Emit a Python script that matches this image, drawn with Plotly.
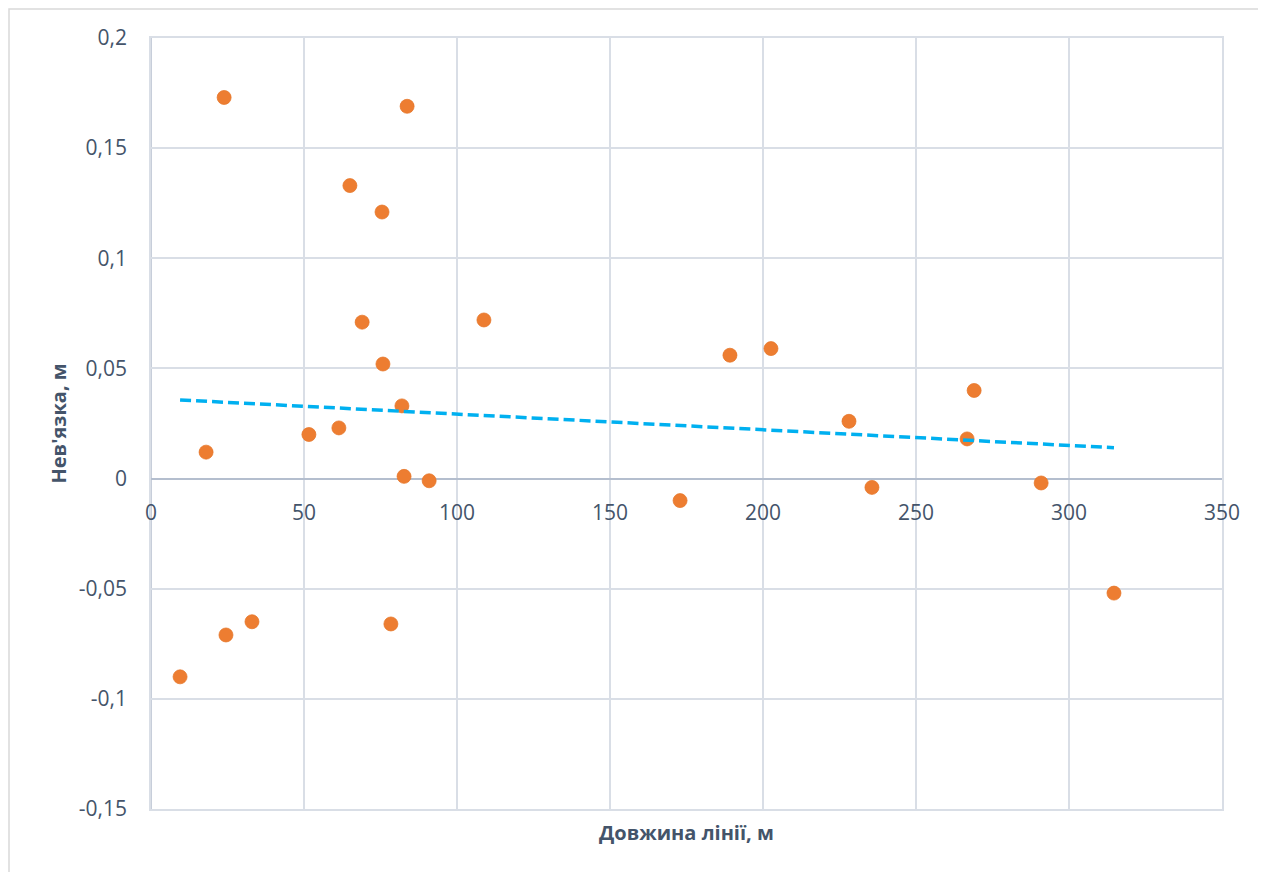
import numpy as np
import plotly.graph_objects as go

# Data
line_length = [23.9, 83.7, 65.0, 75.5, 69.0, 108.8, 75.8, 189.2, 202.6, 269.0,
               82.0, 228.1, 266.7, 61.4, 51.6, 18.0, 82.7, 90.9, 172.9, 235.6,
               290.9, 314.7, 33.0, 24.5, 78.4, 9.5]
misclosure = [0.173, 0.169, 0.133, 0.121, 0.071, 0.072, 0.052, 0.056, 0.059, 0.040,
              0.033, 0.026, 0.018, 0.023, 0.020, 0.012, 0.001, -0.001, -0.010, -0.004,
              -0.002, -0.052, -0.065, -0.071, -0.066, -0.090]

x_tickvals = [0, 50, 100, 150, 200, 250, 300, 350]
x_ticktext = ["0", "50", "100", "150", "200", "250", "300", "350"]
y_tickvals = [-0.15, -0.1, -0.05, 0, 0.05, 0.1, 0.15, 0.2]
y_ticktext = ["-0,15", "-0,1", "-0,05", "0", "0,05", "0,1", "0,15", "0,2"]

x_title = "Довжина лінії, м"
y_title = "Нев'язка, м"

FONT = "Open Sans"
TXT = "#44546A"
GRID = "#D9DEE6"
AXIS = "#B4BECE"

xa = np.array(line_length)
ya = np.array(misclosure)
slope, intercept = np.polyfit(xa, ya, 1)
tx = np.array([xa.min(), xa.max()])
ty = slope * tx + intercept

fig = go.Figure()
fig.add_trace(go.Scatter(
    x=line_length, y=misclosure, mode="markers",
    marker=dict(color="#ED7D31", size=14, line=dict(color="#E67528", width=0.75)),
    showlegend=False, hoverinfo="x+y"))
fig.add_trace(go.Scatter(
    x=tx, y=ty, mode="lines",
    line=dict(color="#00B0F0", width=3.5, dash="11px,5px"),
    showlegend=False, hoverinfo="skip"))

# page body has an 8px margin
W, H = 1258, 864
L, R, T, B = 143, 44, 30, 63

annotations = []
for v, t in zip(x_tickvals, x_ticktext):
    annotations.append(dict(x=v, y=0, xref="x", yref="y", text=t, showarrow=False,
                            yanchor="top", xanchor="center", yshift=-17,
                            font=dict(family=FONT, size=21, color=TXT)))
annotations.append(dict(x=0.5, y=0, xref="paper", yref="paper", text="<b>" + x_title + "</b>",
                        showarrow=False, yanchor="middle", xanchor="center", yshift=-23,
                        font=dict(family=FONT, size=20, color=TXT)))
annotations.append(dict(x=0, y=0.5, xref="paper", yref="paper", text="<b>" + y_title + "</b>",
                        showarrow=False, textangle=-90, xanchor="center", yanchor="middle",
                        xshift=-93, font=dict(family=FONT, size=20, color=TXT)))

pw = W - L - R
ph = H - T - B
fig.update_layout(
    width=W, height=H,
    margin=dict(l=L, r=R, t=T, b=B),
    plot_bgcolor="white", paper_bgcolor="white",
    font=dict(family=FONT, color=TXT),
    xaxis=dict(range=[0, 350], tickvals=x_tickvals, showticklabels=False,
               showgrid=True, gridcolor=GRID, gridwidth=1.5,
               zeroline=False, showline=True, mirror=True, linecolor=GRID, linewidth=1.5,
               fixedrange=True),
    yaxis=dict(range=[-0.15, 0.2], tickvals=y_tickvals, ticktext=y_ticktext,
               tickfont=dict(family=FONT, size=21, color=TXT),
               showgrid=True, gridcolor=GRID, gridwidth=1.5,
               zeroline=True, zerolinecolor=AXIS, zerolinewidth=1.5,
               showline=True, mirror=True, linecolor=GRID, linewidth=1.5,
               ticks="", ticklabelstandoff=18, fixedrange=True),
    annotations=annotations,
    shapes=[
        dict(type="line", xref="x", yref="paper", x0=0, x1=0, y0=0, y1=1,
             line=dict(color=AXIS, width=1.5), layer="below"),
        dict(type="rect", xref="paper", yref="paper",
             x0=(1 - L) / pw, x1=(W + 20 - L) / pw,
             y0=(H - B - (H + 20)) / ph, y1=(H - B - 1) / ph,
             line=dict(color="#D9D9D9", width=1.5), fillcolor="rgba(0,0,0,0)", layer="below"),
    ],
)

fig.write_html("out.html")
